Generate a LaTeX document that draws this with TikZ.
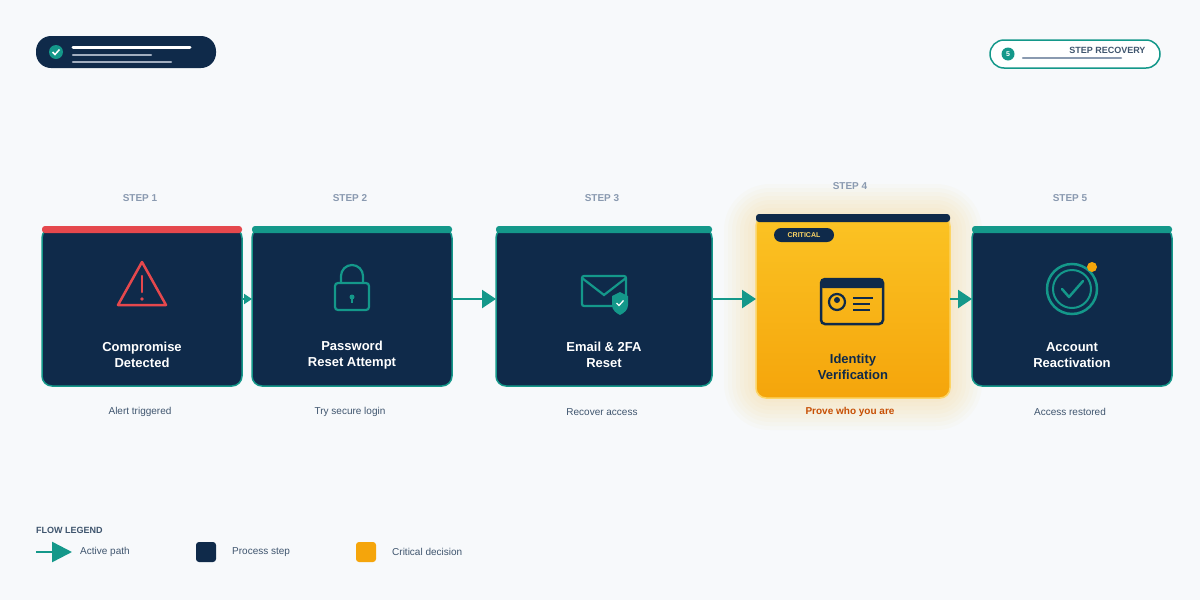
\documentclass[tikz,border=0pt]{standalone}
\usepackage{fontspec}
\setmainfont{Liberation Sans}
\usetikzlibrary{arrows.meta,positioning,calc}
\definecolor{navy}{HTML}{0F2A4A}
\definecolor{teal}{HTML}{14988A}
\definecolor{alert}{HTML}{E5484D}
\definecolor{amber}{HTML}{F5A50B}
\definecolor{amberlt}{HTML}{FBC324}
\definecolor{grayt}{HTML}{8A9AB0}
\definecolor{bg}{HTML}{F7F9FB}
\tikzset{
  stepbox/.style={draw=teal, line width=1.5pt, fill=navy, rounded corners=10pt},
  steplabel/.style={font=\fontsize{10}{12}\selectfont\bfseries, text=grayt},
  title/.style={font=\fontsize{13}{16}\selectfont\bfseries, text=white, align=center},
  sub/.style={font=\fontsize{10}{12}\selectfont, text=navy!80},
  flow/.style={draw=teal, line width=2.5pt, -{Triangle[length=14pt,width=18pt]}},
  every node/.style={font=\rmfamily}
}
\begin{document}
\begin{tikzpicture}[x=1pt,y=-1pt]
    \fill[bg] (0,0) rectangle (1200,600);
    \useasboundingbox (0,0) rectangle (1200,600);

    % header badges
    \fill[navy, rounded corners=15pt] (36,36) rectangle (216,68);
    \fill[teal] (56,52) circle (7);
    \draw[white, line width=1.5pt] (52.5,52) -- (55,54.5) -- (59.5,49.5);
    \draw[white, line width=3pt, line cap=round] (73,47) -- (190,47);
    \draw[grayt!80, line width=2.5pt, line cap=round] (73,55) -- (151,55);
    \draw[grayt!80, line width=2.5pt, line cap=round] (73,62) -- (171,62);
    \draw[teal, line width=1.5pt, fill=white, rounded corners=14pt] (990,40) rectangle (1160,68);
    \fill[teal] (1008,54) circle (6.5);
    \node[font=\fontsize{7}{8}\selectfont\bfseries, text=white] (num) at (1008,54) {5};
    \node[font=\fontsize{9}{10}\selectfont\bfseries, text=navy!80, anchor=east] (hdr) at (1149,50) {STEP RECOVERY};
    \draw[grayt, line width=2.5pt, line cap=round] (1023,58) -- (1121,58);

    % glow behind step 4
    \foreach \r in {4,8,...,32}
      \fill[amber, opacity=0.025, rounded corners=14pt+\r] (756-\r,216-\r) rectangle (950+\r,398+\r);

    % step boxes
    \draw[stepbox] (42,228) rectangle (242,386);
    \draw[stepbox] (252,228) rectangle (452,386);
    \draw[stepbox] (496,228) rectangle (712,386);
    \draw[stepbox] (972,228) rectangle (1172,386);
    \shade[top color=amberlt, bottom color=amber, draw=amberlt!70, line width=1.5pt, rounded corners=10pt] (756,216) rectangle (950,398);
    \fill[alert, rounded corners=3pt] (42,226) rectangle (242,233);
    \fill[teal, rounded corners=3pt] (252,226) rectangle (452,233);
    \fill[teal, rounded corners=3pt] (496,226) rectangle (712,233);
    \fill[teal, rounded corners=3pt] (972,226) rectangle (1172,233);
    \fill[navy, rounded corners=3pt] (756,214) rectangle (950,222);

    % named anchors
    \coordinate (e1) at (242,299); \coordinate (w2) at (252,299);
    \coordinate (e2) at (452,299); \coordinate (w3) at (496,299);
    \coordinate (e3) at (712,299); \coordinate (w4) at (756,299);
    \coordinate (e4) at (950,299); \coordinate (w5) at (972,299);

    % arrows
    \draw[flow, -{Triangle[length=8pt,width=10pt]}] (e1) -- (w2);
    \draw[flow] (e2) -- (w3);
    \draw[flow] (e3) -- (w4);
    \draw[flow] (e4) -- (w5);

    % step labels
    \node[steplabel] (l1) at (140,198) {STEP 1};
    \node[steplabel] (l2) at (350,198) {STEP 2};
    \node[steplabel] (l3) at (602,198) {STEP 3};
    \node[steplabel] (l4) at (850,186) {STEP 4};
    \node[steplabel] (l5) at (1070,198) {STEP 5};

    % icons
    \draw[alert, line width=2.5pt, line join=round] (142,262) -- (166,305) -- (118,305) -- cycle;
    \draw[alert, line width=2.5pt, line cap=round] (142,276) -- (142,292);
    \fill[alert] (142,299) circle (1.8);
    \draw[teal, line width=2.2pt, rounded corners=3pt] (335,283) rectangle (369,310);
    \draw[teal, line width=2.2pt] (341,283) -- (341,276) arc[start angle=180,end angle=360,radius=11] -- (363,283);
    \fill[teal] (352,297) circle (2.5); \draw[teal, line width=1.5pt] (352,297) -- (352,303);
    \draw[teal, line width=2.2pt, rounded corners=2pt] (582,276) rectangle (626,306);
    \draw[teal, line width=2.2pt] (582,278) -- (604,295) -- (626,278);
    \fill[teal] (612,296) -- (620,292) -- (628,296) -- (628,305) .. controls (628,310) and (624,313) .. (620,315) .. controls (616,313) and (612,310) .. (612,305) -- cycle;
    \draw[white, line width=1.3pt] (616.5,303) -- (619,305.5) -- (623.5,300.5);
    \fill[navy, rounded corners=2pt] (821,279) rectangle (883,288);
    \draw[navy, line width=2.5pt, rounded corners=4pt] (821,279) rectangle (883,324);
    \draw[navy, line width=2.2pt] (837,302) circle (8);
    \fill[navy] (837,300) circle (3);
    \draw[navy, line width=2pt] (853,298) -- (873,298);
    \draw[navy, line width=2pt] (853,304) -- (870,304);
    \draw[navy, line width=2pt] (853,310) -- (870,310);
    \draw[teal, line width=2.5pt] (1072,289) circle (25);
    \draw[teal, line width=2pt] (1072,289) circle (19);
    \draw[teal, line width=2.5pt, line cap=round, line join=round] (1062,289) -- (1069,297) -- (1083,281);
    \fill[amber] (1092,267) circle (5);

    % critical tag
    \fill[navy, rounded corners=7pt] (774,228) rectangle (834,242);
    \node[font=\fontsize{7}{8}\selectfont\bfseries, text=amberlt!70] (crit) at (804,235) {CRITICAL};

    % titles
    \node[title] (t1) at (142,355) {Compromise\\Detected};
    \node[title] (t2) at (352,355) {Password\\Reset Attempt};
    \node[title] (t3) at (604,355) {Email \& 2FA\\Reset};
    \node[title, text=navy] (t4) at (853,367) {Identity\\Verification};
    \node[title] (t5) at (1072,355) {Account\\Reactivation};

    % subtitles
    \node[sub] (d1) at (140,412) {Alert triggered};
    \node[sub] (d2) at (350,412) {Try secure login};
    \node[sub] (d3) at (602,412) {Recover access};
    \node[sub, text=amber!60!red!80!black, font=\fontsize{10}{12}\selectfont\bfseries] (d4) at (850,412) {Prove who you are};
    \node[sub] (d5) at (1070,412) {Access restored};

    % legend
    \node[font=\fontsize{9}{11}\selectfont\bfseries, text=navy!80, anchor=west, inner sep=0pt] (leg) at (36,530) {FLOW LEGEND};
    \coordinate (la) at (36,552); \coordinate (lb) at (72,552);
    \draw[flow, -{Triangle[length=20pt,width=20pt]}] (la) -- (lb);
    \node[sub, anchor=west, inner sep=0pt] (lg1) at (80,552) {Active path};
    \fill[navy, rounded corners=3pt] (196,542) rectangle (216,562);
    \node[sub, anchor=west, inner sep=0pt] (lg2) at (232,552) {Process step};
    \fill[amber, rounded corners=3pt] (356,542) rectangle (376,562);
    \node[sub, anchor=west, inner sep=0pt] (lg3) at (392,552) {Critical decision};
\end{tikzpicture}
\end{document}
